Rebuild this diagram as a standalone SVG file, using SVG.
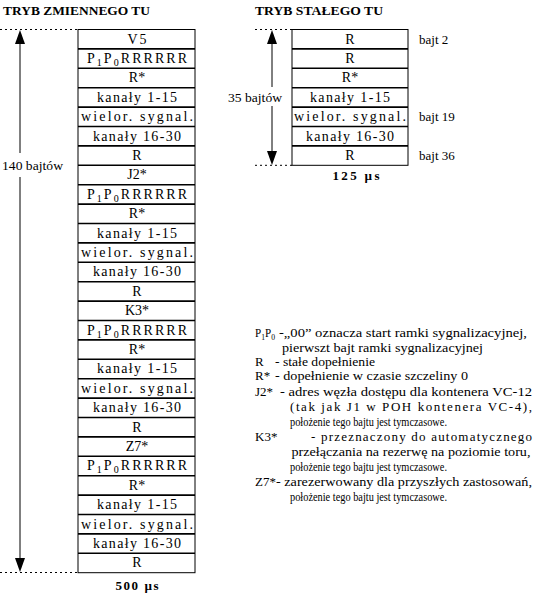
<svg xmlns="http://www.w3.org/2000/svg" width="535" height="603" viewBox="0 0 535 603">
<style>
text{font-family:"Liberation Serif","Times New Roman",serif;fill:#000}
.t{font-size:13px;font-weight:bold}
.c{font-size:14px;text-anchor:middle}
.l{font-size:13px}
.box{fill:#fff;stroke:#000;stroke-width:1}
.sep{stroke:#000;stroke-width:1.6}
.dot{stroke:#000;stroke-width:1;stroke-dasharray:2 3}
.ax{stroke:#000;stroke-width:1}
</style>
<defs>
<path id="up" d="M0,0 L-5,14 L5,14 Z" fill="#000"/>
<path id="dn" d="M0,0 L-5,-14 L5,-14 Z" fill="#000"/>
</defs>
<rect width="535" height="603" fill="#fff"/>

<text class="t" x="3" y="15" textLength="147" lengthAdjust="spacingAndGlyphs">TRYB ZMIENNEGO TU</text>
<text class="t" x="255" y="15" textLength="128" lengthAdjust="spacingAndGlyphs">TRYB STAŁEGO TU</text>

<g id="connectors">
<line class="dot" x1="0" y1="29.5" x2="78" y2="29.5"/>
<line class="dot" x1="0" y1="572.5" x2="78" y2="572.5"/>
<line class="ax" x1="20" y1="40" x2="20" y2="153"/>
<line class="ax" x1="20" y1="177" x2="20" y2="562"/>
<use href="#up" x="20" y="30"/>
<use href="#dn" x="20" y="572"/>
<line class="dot" x1="255" y1="29.5" x2="292" y2="29.5"/>
<line class="dot" x1="255" y1="165.3" x2="292" y2="165.3"/>
<line class="ax" x1="272" y1="40" x2="272" y2="87"/>
<line class="ax" x1="272" y1="106" x2="272" y2="155"/>
<use href="#up" x="272" y="30"/>
<use href="#dn" x="272" y="165"/>
</g>

<g id="label-140">
<text class="l" x="2" y="170" textLength="61" lengthAdjust="spacingAndGlyphs">140 bajtów</text>
</g>
<g id="label-35">
<text class="l" x="228" y="102" textLength="54" lengthAdjust="spacingAndGlyphs">35 bajtów</text>
</g>

<g id="frame-variable">
<rect class="box" x="78" y="29.5" width="117" height="543.2"/>
<g>
<line class="sep" x1="78" x2="195" y1="48.9" y2="48.9"/>
<line class="sep" x1="78" x2="195" y1="68.3" y2="68.3"/>
<line class="sep" x1="78" x2="195" y1="87.7" y2="87.7"/>
<line class="sep" x1="78" x2="195" y1="107.1" y2="107.1"/>
<line class="sep" x1="78" x2="195" y1="126.5" y2="126.5"/>
<line class="sep" x1="78" x2="195" y1="145.9" y2="145.9"/>
<line class="sep" x1="78" x2="195" y1="165.3" y2="165.3"/>
<line class="sep" x1="78" x2="195" y1="184.7" y2="184.7"/>
<line class="sep" x1="78" x2="195" y1="204.1" y2="204.1"/>
<line class="sep" x1="78" x2="195" y1="223.5" y2="223.5"/>
<line class="sep" x1="78" x2="195" y1="242.9" y2="242.9"/>
<line class="sep" x1="78" x2="195" y1="262.3" y2="262.3"/>
<line class="sep" x1="78" x2="195" y1="281.7" y2="281.7"/>
<line class="sep" x1="78" x2="195" y1="301.1" y2="301.1"/>
<line class="sep" x1="78" x2="195" y1="320.5" y2="320.5"/>
<line class="sep" x1="78" x2="195" y1="339.9" y2="339.9"/>
<line class="sep" x1="78" x2="195" y1="359.3" y2="359.3"/>
<line class="sep" x1="78" x2="195" y1="378.7" y2="378.7"/>
<line class="sep" x1="78" x2="195" y1="398.1" y2="398.1"/>
<line class="sep" x1="78" x2="195" y1="417.5" y2="417.5"/>
<line class="sep" x1="78" x2="195" y1="436.9" y2="436.9"/>
<line class="sep" x1="78" x2="195" y1="456.3" y2="456.3"/>
<line class="sep" x1="78" x2="195" y1="475.7" y2="475.7"/>
<line class="sep" x1="78" x2="195" y1="495.1" y2="495.1"/>
<line class="sep" x1="78" x2="195" y1="514.5" y2="514.5"/>
<line class="sep" x1="78" x2="195" y1="533.9" y2="533.9"/>
<line class="sep" x1="78" x2="195" y1="553.3" y2="553.3"/>
</g>
<g>
<text class="c" x="137" y="43.5" textLength="19" lengthAdjust="spacing">V5</text>
<text class="c" x="137" y="62.9" textLength="100" lengthAdjust="spacing">P<tspan dy="3" font-size="10">1</tspan><tspan dy="-3">P</tspan><tspan dy="3" font-size="10">0</tspan><tspan dy="-3">RRRRRR</tspan></text>
<text class="c" x="137" y="82.3">R*</text>
<text class="c" x="137" y="101.7" textLength="80" lengthAdjust="spacing">kanały 1-15</text>
<text class="c" x="137" y="121.1" textLength="112" lengthAdjust="spacing">wielor. sygnal.</text>
<text class="c" x="137" y="140.5" textLength="88" lengthAdjust="spacing">kanały 16-30</text>
<text class="c" x="137" y="159.9">R</text>
<text class="c" x="137" y="179.3">J2*</text>
<text class="c" x="137" y="198.7" textLength="100" lengthAdjust="spacing">P<tspan dy="3" font-size="10">1</tspan><tspan dy="-3">P</tspan><tspan dy="3" font-size="10">0</tspan><tspan dy="-3">RRRRRR</tspan></text>
<text class="c" x="137" y="218.1">R*</text>
<text class="c" x="137" y="237.5" textLength="80" lengthAdjust="spacing">kanały 1-15</text>
<text class="c" x="137" y="256.9" textLength="112" lengthAdjust="spacing">wielor. sygnal.</text>
<text class="c" x="137" y="276.3" textLength="88" lengthAdjust="spacing">kanały 16-30</text>
<text class="c" x="137" y="295.7">R</text>
<text class="c" x="137" y="315.1">K3*</text>
<text class="c" x="137" y="334.5" textLength="100" lengthAdjust="spacing">P<tspan dy="3" font-size="10">1</tspan><tspan dy="-3">P</tspan><tspan dy="3" font-size="10">0</tspan><tspan dy="-3">RRRRRR</tspan></text>
<text class="c" x="137" y="353.9">R*</text>
<text class="c" x="137" y="373.3" textLength="80" lengthAdjust="spacing">kanały 1-15</text>
<text class="c" x="137" y="392.7" textLength="112" lengthAdjust="spacing">wielor. sygnal.</text>
<text class="c" x="137" y="412.1" textLength="88" lengthAdjust="spacing">kanały 16-30</text>
<text class="c" x="137" y="431.5">R</text>
<text class="c" x="137" y="450.9">Z7*</text>
<text class="c" x="137" y="470.3" textLength="100" lengthAdjust="spacing">P<tspan dy="3" font-size="10">1</tspan><tspan dy="-3">P</tspan><tspan dy="3" font-size="10">0</tspan><tspan dy="-3">RRRRRR</tspan></text>
<text class="c" x="137" y="489.7">R*</text>
<text class="c" x="137" y="509.1" textLength="80" lengthAdjust="spacing">kanały 1-15</text>
<text class="c" x="137" y="528.5" textLength="112" lengthAdjust="spacing">wielor. sygnal.</text>
<text class="c" x="137" y="547.9" textLength="88" lengthAdjust="spacing">kanały 16-30</text>
<text class="c" x="137" y="567.3">R</text>
</g>
<text class="t" x="137" y="590" text-anchor="middle" font-size="14" textLength="43" lengthAdjust="spacing">500 µs</text>
</g>

<g id="frame-fixed">
<rect class="box" x="292" y="29.5" width="116" height="135.8"/>
<line class="sep" x1="292" x2="408" y1="48.9" y2="48.9"/>
<line class="sep" x1="292" x2="408" y1="68.3" y2="68.3"/>
<line class="sep" x1="292" x2="408" y1="87.7" y2="87.7"/>
<line class="sep" x1="292" x2="408" y1="107.1" y2="107.1"/>
<line class="sep" x1="292" x2="408" y1="126.5" y2="126.5"/>
<line class="sep" x1="292" x2="408" y1="145.9" y2="145.9"/>
<text class="c" x="350" y="43.5">R</text>
<text class="c" x="350" y="62.9">R</text>
<text class="c" x="350" y="82.3">R*</text>
<text class="c" x="350" y="101.7" textLength="80" lengthAdjust="spacing">kanały 1-15</text>
<text class="c" x="350" y="121.1" textLength="112" lengthAdjust="spacing">wielor. sygnal.</text>
<text class="c" x="350" y="140.5" textLength="88" lengthAdjust="spacing">kanały 16-30</text>
<text class="c" x="350" y="159.9">R</text>
<text class="t" x="356" y="180" text-anchor="middle" font-size="14" textLength="47" lengthAdjust="spacing">125 µs</text>
<text class="l" x="419" y="43.5">bajt 2</text>
<text class="l" x="419" y="121">bajt 19</text>
<text class="l" x="419" y="159.5">bajt 36</text>
</g>

<g id="legend">
<text class="l" x="255" y="337" textLength="20" lengthAdjust="spacingAndGlyphs">P<tspan dy="3" font-size="9">1</tspan><tspan dy="-3">P</tspan><tspan dy="3" font-size="9">0</tspan></text>
<text class="l" x="279" y="337" textLength="248" lengthAdjust="spacingAndGlyphs">-„00” oznacza start ramki sygnalizacyjnej,</text>
<text class="l" x="282" y="351.5" textLength="201" lengthAdjust="spacingAndGlyphs">pierwszt bajt ramki sygnalizacyjnej</text>
<text class="l" x="255" y="366">R</text>
<text class="l" x="275" y="366" textLength="100" lengthAdjust="spacingAndGlyphs">- stałe dopełnienie</text>
<text class="l" x="255" y="380">R*</text>
<text class="l" x="275" y="380" textLength="193" lengthAdjust="spacingAndGlyphs">- dopełnienie w czasie szczeliny 0</text>
<text class="l" x="255" y="395.5">J2*</text>
<text class="l" x="280" y="395.5" textLength="252" lengthAdjust="spacingAndGlyphs">- adres węzła dostępu dla kontenera VC-12</text>
<text class="l" x="290" y="410.5" textLength="242" lengthAdjust="spacing">(tak jak J1 w POH kontenera VC-4),</text>
<text class="l" x="290" y="425.5" textLength="157" lengthAdjust="spacingAndGlyphs">położenie tego bajtu jest tymczasowe.</text>
<text class="l" x="255" y="441">K3*</text>
<text class="l" x="311" y="441" textLength="221" lengthAdjust="spacing">- przeznaczony do automatycznego</text>
<text class="l" x="291.5" y="456" textLength="239" lengthAdjust="spacingAndGlyphs">przełączania na rezerwę na poziomie toru,</text>
<text class="l" x="290" y="470.5" textLength="157" lengthAdjust="spacingAndGlyphs">położenie tego bajtu jest tymczasowe.</text>
<text class="l" x="255" y="486">Z7*</text>
<text class="l" x="276" y="486" textLength="256" lengthAdjust="spacingAndGlyphs">- zarezerwowany dla przyszłych zastosowań,</text>
<text class="l" x="290" y="501" textLength="157" lengthAdjust="spacingAndGlyphs">położenie tego bajtu jest tymczasowe.</text>
</g>
</svg>
